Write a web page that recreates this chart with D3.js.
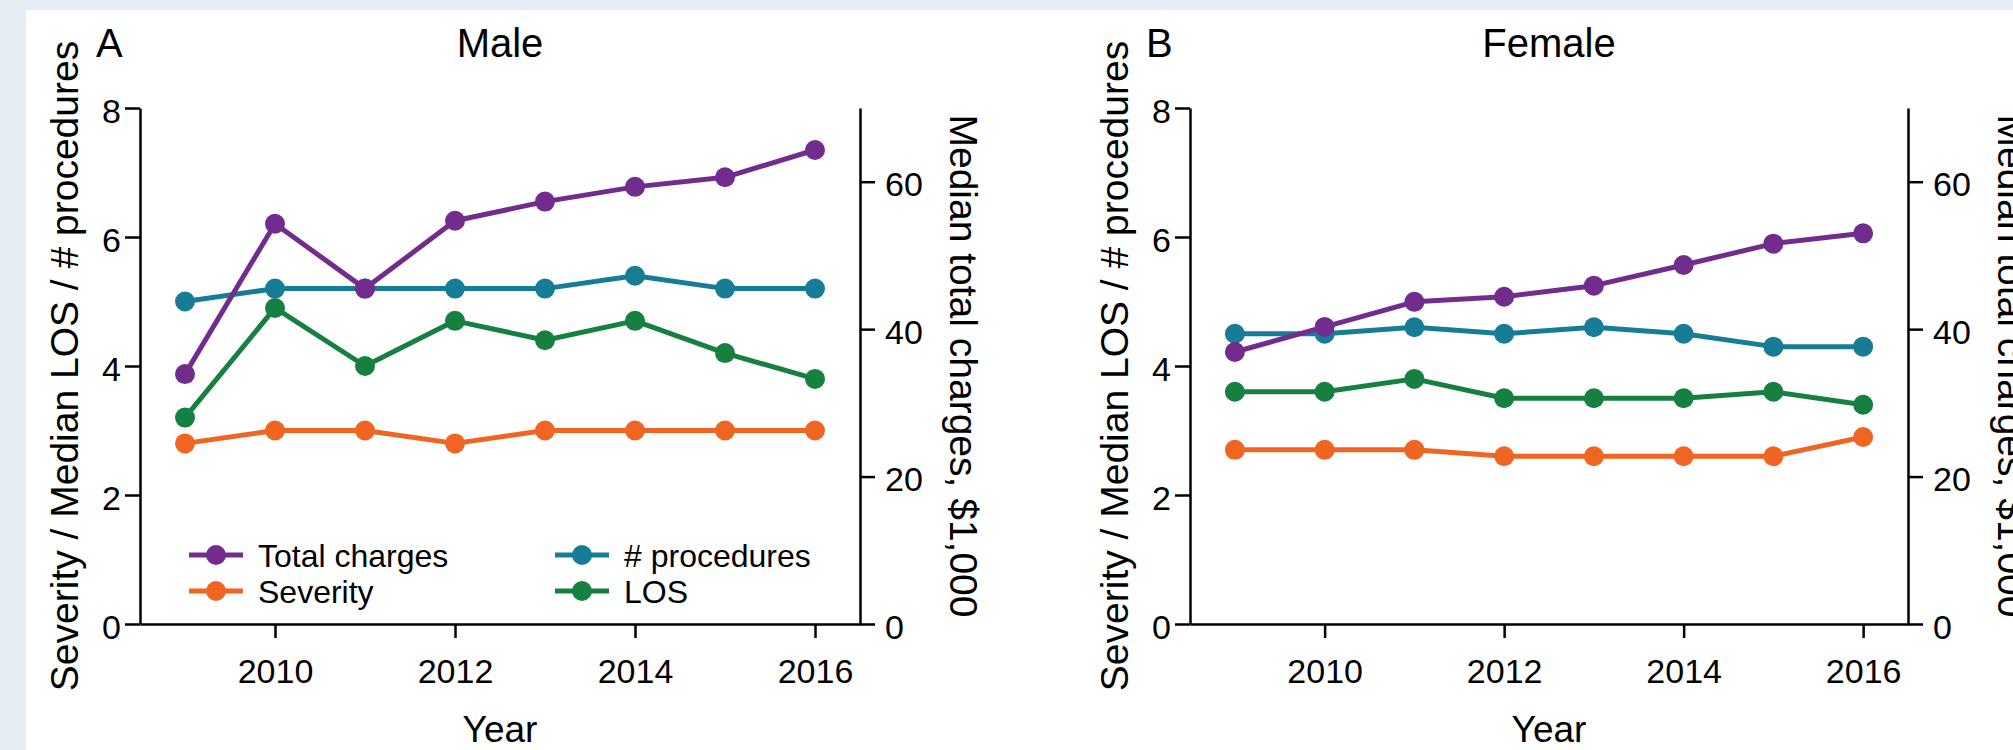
<!DOCTYPE html>
<html>
<head>
<meta charset="utf-8">
<script src="https://cdn.jsdelivr.net/npm/d3@7"></script>
<style>
  body { margin: 0; background: #e6edf5; }
  svg { display: block; }
  text { font-family: "Liberation Sans", Arial, Helvetica, sans-serif; fill: #000; }
  .axis path, .axis line { stroke: #000; stroke-width: 2.5; }
</style>
</head>
<body>
<script>

// Years on the x axis.
var years = [2009, 2010, 2011, 2012, 2013, 2014, 2015, 2016];

// Male, panel A. Charges are in $1,000 and use the right axis.
var maleCharges    = [33.9, 54.3, 45.5, 54.7, 57.3, 59.3, 60.6, 64.3],
    maleProcedures = [5.0, 5.2, 5.2, 5.2, 5.2, 5.4, 5.2, 5.2],
    maleLOS        = [3.2, 4.9, 4.0, 4.7, 4.4, 4.7, 4.2, 3.8],
    maleSeverity   = [2.8, 3.0, 3.0, 2.8, 3.0, 3.0, 3.0, 3.0];

// Female, panel B.
var femaleCharges    = [36.9, 40.3, 43.7, 44.4, 45.9, 48.7, 51.6, 53.0],
    femaleProcedures = [4.5, 4.5, 4.6, 4.5, 4.6, 4.5, 4.3, 4.3],
    femaleLOS        = [3.6, 3.6, 3.8, 3.5, 3.5, 3.5, 3.6, 3.4],
    femaleSeverity   = [2.7, 2.7, 2.7, 2.6, 2.6, 2.6, 2.6, 2.9];

// Tick values.
var xTicks = [2010, 2012, 2014, 2016],
    leftTicks = [0, 2, 4, 6, 8],
    rightTicks = [0, 20, 40, 60];

var seriesNames = ['Total charges', '# procedures', 'Severity', 'LOS'],
    colors = {
      'Total charges': '#722c8e',
      '# procedures': '#177d96',
      'Severity': '#f06522',
      'LOS': '#168040'
    };

var outerWidth = 2013,
    outerHeight = 750;

var svg = d3.select('body').append('svg')
  .attr('width', outerWidth)
  .attr('height', outerHeight);

// White plot region over the light blue page.
svg.append('rect')
  .attr('x', 26).attr('y', 10)
  .attr('width', outerWidth - 26).attr('height', outerHeight - 10)
  .attr('fill', '#fff');

function drawPanel(opts) {
  var top = 108, bottom = 624;

  var x = d3.scaleLinear().domain([2008.5, 2016.5]).range([opts.left, opts.right]),
      yLeft = d3.scaleLinear().domain([0, 8]).range([bottom, top]),
      yRight = d3.scaleLinear().domain([0, 70]).range([bottom, top]);

  var g = svg.append('g');

  // Axes.
  g.append('g').attr('class', 'axis')
    .attr('transform', 'translate(0,' + bottom + ')')
    .call(d3.axisBottom(x).tickValues(xTicks).tickFormat(d3.format('d'))
      .tickSize(14).tickSizeOuter(0))
    .call(function (a) {
      a.selectAll('text').attr('font-size', 34).attr('dy', null).attr('y', 59);
    });

  g.append('g').attr('class', 'axis')
    .attr('transform', 'translate(' + opts.left + ',0)')
    .call(d3.axisLeft(yLeft).tickValues(leftTicks).tickSize(15).tickSizeOuter(0))
    .call(function (a) {
      a.selectAll('text').attr('font-size', 34).attr('x', -19).attr('dy', '0.42em');
    });

  g.append('g').attr('class', 'axis')
    .attr('transform', 'translate(' + opts.right + ',0)')
    .call(d3.axisRight(yRight).tickValues(rightTicks).tickSize(15).tickSizeOuter(0))
    .call(function (a) {
      a.selectAll('text').attr('font-size', 34).attr('x', 25).attr('dy', '0.42em');
    });

  g.selectAll('.domain').attr('fill', 'none');

  // Titles and axis labels.
  var mid = (opts.left + opts.right) / 2;
  g.append('text').attr('x', opts.left - 44).attr('y', 57)
    .attr('font-size', 40).text(opts.letter);
  g.append('text').attr('x', mid).attr('y', 57)
    .attr('text-anchor', 'middle').attr('font-size', 40).text(opts.title);
  g.append('text').attr('x', mid).attr('y', 742)
    .attr('text-anchor', 'middle').attr('font-size', 37).text('Year');
  g.append('text')
    .attr('transform', 'translate(' + (opts.left - 62) + ',' + (top + bottom) / 2 + ') rotate(-90)')
    .attr('text-anchor', 'middle').attr('font-size', 39)
    .text('Severity / Median LOS / # procedures');
  g.append('text')
    .attr('transform', 'translate(' + (opts.right + 90) + ',' + (top + bottom) / 2 + ') rotate(90)')
    .attr('text-anchor', 'middle').attr('font-size', 39)
    .text('Median total charges, $1,000');

  // Lines, drawn so that total charges sits on top.
  var series = [
    { name: 'Severity', values: opts.severity, y: yLeft },
    { name: 'LOS', values: opts.los, y: yLeft },
    { name: '# procedures', values: opts.procedures, y: yLeft },
    { name: 'Total charges', values: opts.charges, y: yRight }
  ];

  series.forEach(function (s) {
    var line = d3.line()
      .x(function (d, i) { return x(years[i]); })
      .y(function (d) { return s.y(d); });
    var sg = g.append('g');
    sg.append('path')
      .attr('d', line(s.values))
      .attr('fill', 'none')
      .attr('stroke', colors[s.name])
      .attr('stroke-width', 5)
      .attr('stroke-linejoin', 'round');
    sg.selectAll('circle').data(s.values).enter().append('circle')
      .attr('cx', function (d, i) { return x(years[i]); })
      .attr('cy', function (d) { return s.y(d); })
      .attr('r', 10)
      .attr('fill', colors[s.name]);
  });

  // Legend, only in the first panel.
  if (opts.legend) {
    var legend = g.append('g').attr('transform', 'translate(' + (opts.left + 76) + ',555)');
    var item = legend.selectAll('g').data(seriesNames).enter().append('g')
      .attr('transform', function (d, i) {
        return 'translate(' + (i % 2) * 366 + ',' + Math.floor(i / 2) * 36 + ')';
      });
    item.append('line')
      .attr('x1', -27).attr('x2', 27)
      .attr('stroke', function (d) { return colors[d]; })
      .attr('stroke-width', 5);
    item.append('circle').attr('r', 10)
      .attr('fill', function (d) { return colors[d]; });
    item.append('text').attr('x', 42).attr('y', 12)
      .attr('font-size', 32).text(function (d) { return d; });
  }
}

drawPanel({
  left: 140, right: 860, letter: 'A', title: 'Male', legend: true,
  charges: maleCharges, procedures: maleProcedures, los: maleLOS, severity: maleSeverity
});

drawPanel({
  left: 1190, right: 1908, letter: 'B', title: 'Female', legend: false,
  charges: femaleCharges, procedures: femaleProcedures, los: femaleLOS, severity: femaleSeverity
});

</script>
</body>
</html>
